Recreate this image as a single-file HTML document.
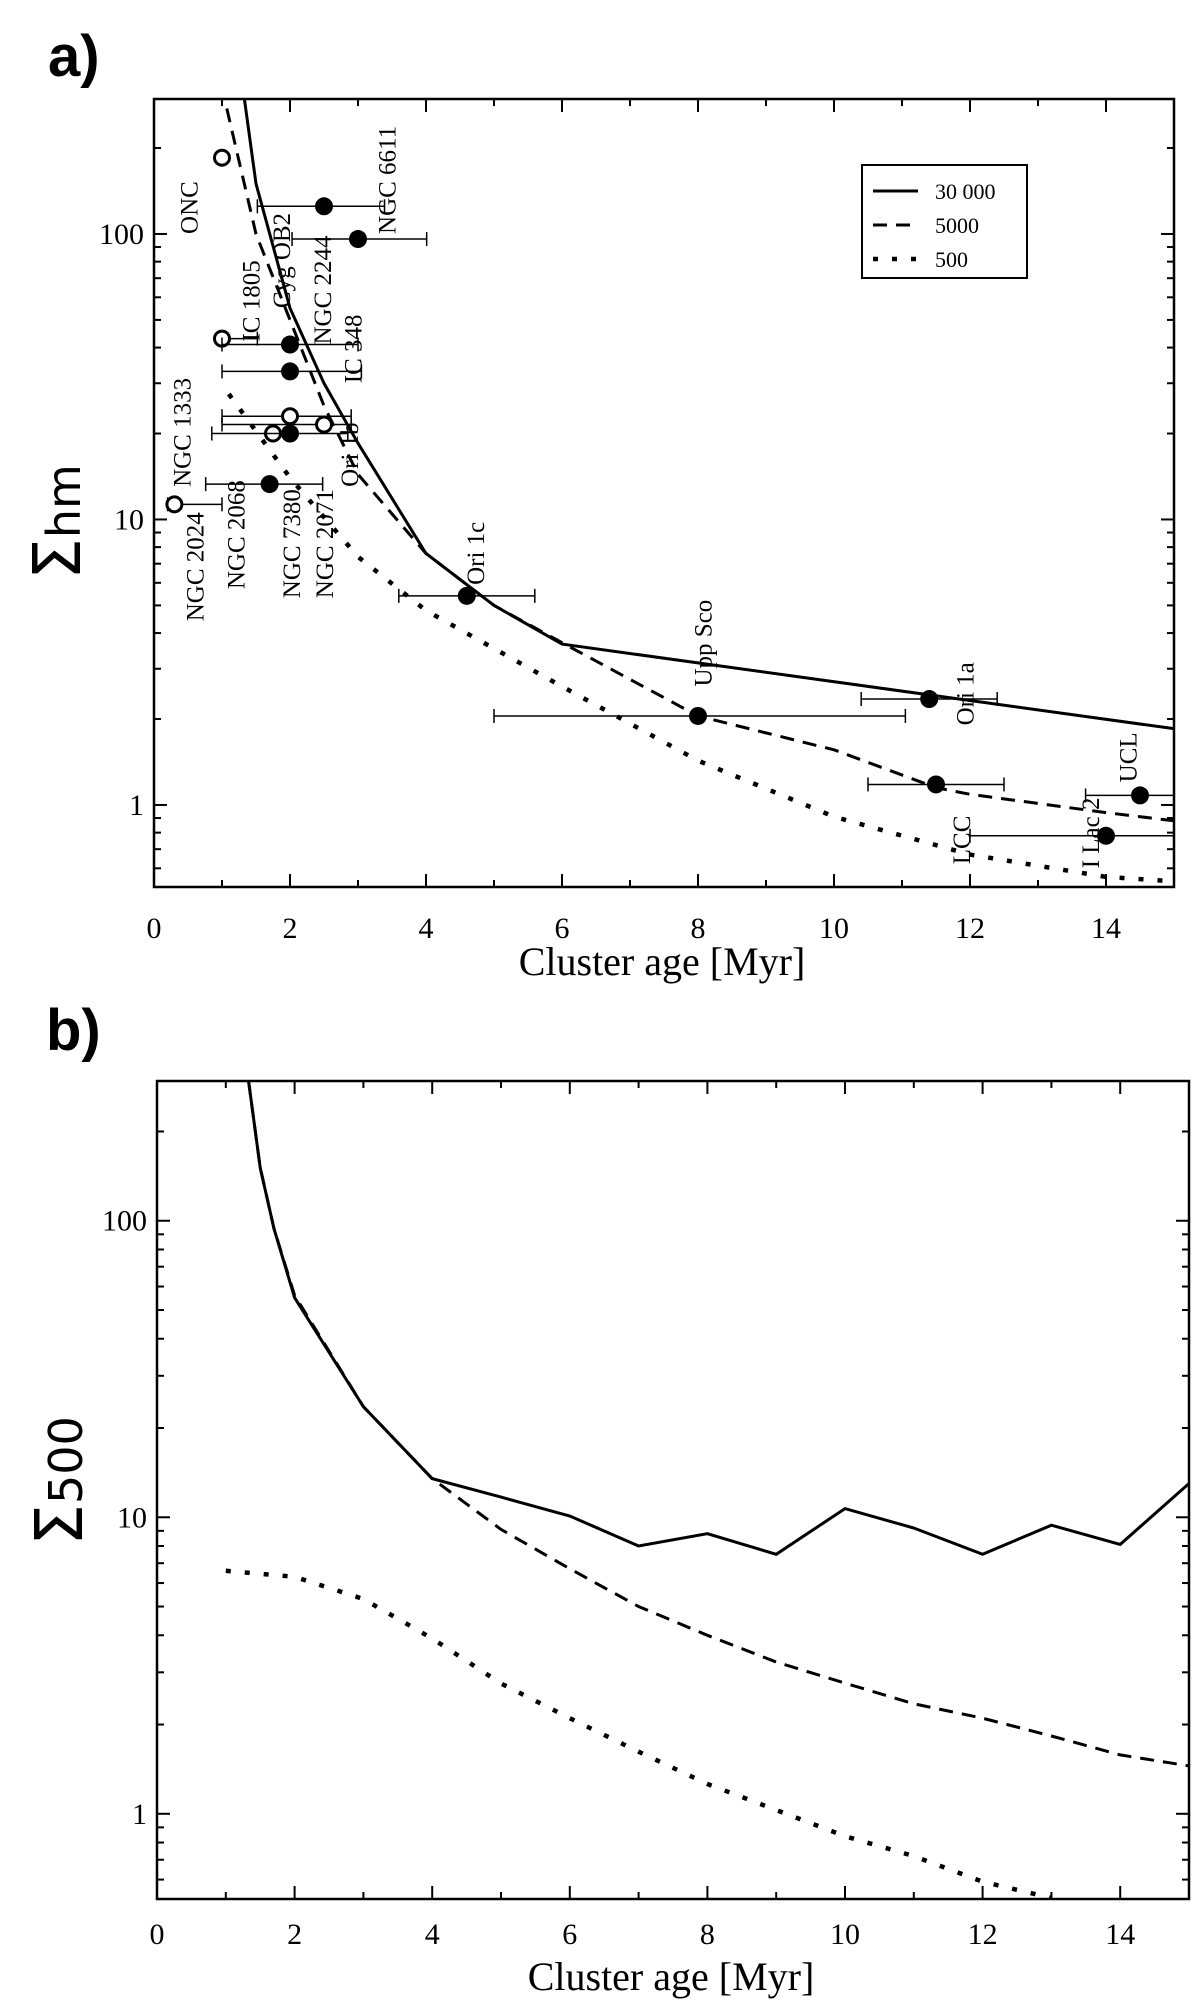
<!DOCTYPE html>
<html><head><meta charset="utf-8"><style>
html,body{margin:0;padding:0;background:#fff;}
svg{display:block;}
.tick{font-family:"Liberation Serif",serif;font-size:30px;fill:#000;}
.title{font-family:"Liberation Serif",serif;font-size:40px;fill:#000;}
.lab{font-family:"Liberation Serif",serif;font-size:25px;fill:#000;}
.leg{font-family:"Liberation Serif",serif;font-size:22px;fill:#000;}
.panel{font-family:"Liberation Sans",sans-serif;font-weight:bold;font-size:58px;fill:#000;}
.ylab{font-family:"DejaVu Sans","Liberation Sans",sans-serif;font-size:66px;fill:#000;}
</style></head><body>
<svg id="fig" width="1200" height="2007" viewBox="0 0 1200 2007" xmlns="http://www.w3.org/2000/svg">
<defs>
<clipPath id="ca"><rect x="154" y="99" width="1020" height="788"/></clipPath>
<clipPath id="cb"><rect x="157" y="1081" width="1032" height="818"/></clipPath>
</defs>
<text class="panel" x="48" y="76">a)</text>
<text class="panel" x="46" y="1050">b)</text>
<g id="pa"></g>
<g id="pb"></g>
</svg>
<script>
// ---- Panel a data ----
const aSolidX = [1.33, 1.5, 2, 2.5, 3, 4, 5, 6, 15];
const aSolidY = [297, 150, 55, 30, 18.5, 7.6, 5.0, 3.66, 1.85];
const aDashX = [1.07, 1.5, 2, 2.5, 3, 4, 5, 6, 8, 10, 11.5, 12, 14, 15];
const aDashY = [275, 100, 50, 25, 14.4, 7.6, 5.0, 3.7, 2.05, 1.56, 1.15, 1.09, 0.94, 0.88];
const aDotX = [1.1, 2, 3, 4, 6, 8, 10, 12, 14, 15];
const aDotY = [27.5, 14, 7.4, 4.8, 2.6, 1.43, 0.91, 0.67, 0.56, 0.54];
const openX = [1, 1, 1.75, 2, 2.5, 0.3];
const openY = [185, 43, 20, 23, 21.5, 11.3];
const openLo = [1, 1.0, 1.75, 1.0, 1.0, 0.2];
const openHi = [1, 1.52, 1.75, 2.9, 2.9, 1.0];
const fillX = [2.5, 3, 2, 2, 2, 1.7, 4.6, 8, 11.4, 11.5, 14.5, 14];
const fillY = [125, 96, 41, 33, 20, 13.3, 5.4, 2.05, 2.35, 1.18, 1.08, 0.78];
const fillLo = [1.52, 2.03, 1.0, 1.0, 0.85, 0.76, 3.6, 5.0, 10.4, 10.5, 13.7, 12.0];
const fillHi = [3.39, 4.01, 3.0, 3.05, 2.85, 2.48, 5.6, 11.05, 12.4, 12.5, 15, 15];
const labelText = ["ONC","NGC 6611","Cyg OB2","IC 1805","NGC 2244","IC 348","NGC 1333","Ori 1b","NGC 2068","NGC 7380","NGC 2071","NGC 2024","Ori 1c","Upp Sco","Ori 1a","UCL","LCC","I Lac 2"];
const labelAge = [0.64, 3.55, 2.0, 1.55, 2.6, 3.05, 0.54, 3.0, 1.33, 2.15, 2.63, 0.73, 4.85, 8.2, 12.05, 14.45, 12.0, 13.9];
const labelVal = [100, 100, 55, 42, 41, 30, 13, 13, 5.7, 5.3, 5.3, 4.4, 5.9, 2.6, 1.9, 1.2, 0.62, 0.6];
// ---- Panel b data ----
const bSolidX = [1.33, 1.5, 1.7, 2, 3, 4, 5, 6, 7, 8, 9, 10, 11, 12, 13, 14, 15];
const bSolidY = [297, 151, 94, 55, 23.6, 13.5, 11.7, 10.1, 8.0, 8.8, 7.5, 10.7, 9.2, 7.5, 9.4, 8.1, 13];
const bDashX = [1.33, 1.5, 1.7, 2, 3, 4, 5, 6, 7, 8, 9, 10, 11, 12, 13, 14, 15];
const bDashY = [297, 151, 94, 56, 23.6, 13.5, 9.1, 6.7, 5.0, 4.0, 3.25, 2.76, 2.35, 2.1, 1.83, 1.58, 1.45];
const bDotX = [1, 2, 3, 4, 5, 6, 7, 8, 9, 10, 11, 12, 13];
const bDotY = [6.6, 6.3, 5.3, 3.9, 2.75, 2.1, 1.62, 1.26, 1.03, 0.84, 0.72, 0.59, 0.52];
const xTicks = [0, 2, 4, 6, 8, 10, 12, 14];
const yTicks = [1, 10, 100];
const yTickLabels = ["1", "10", "100"];

const NS = "http://www.w3.org/2000/svg";
const DOT = "5,14", DASH = "14,9";
function mk(tag, attrs, parent) {
  const e = document.createElementNS(NS, tag);
  for (const k in attrs) e.setAttribute(k, attrs[k]);
  parent.appendChild(e);
  return e;
}
function makeAxes(L, R, T, B, ymin, ymax) {
  const sx = v => L + (v / 15) * (R - L);
  const sy = v => B - (Math.log10(v) - Math.log10(ymin)) / (Math.log10(ymax) - Math.log10(ymin)) * (B - T);
  return {sx, sy};
}
function frame(g, L, R, T, B, ax, xtY, titleY) {
  const f = mk("rect", {x:L, y:T, width:R-L, height:B-T, fill:"none", stroke:"#000", "stroke-width":2.5}, g);
  
  
  for (let i = 0; i <= 15; i++) {
    const x = ax.sx(i), len = (i % 2 === 0) ? 13 : 7;
    mk("line", {x1:x, x2:x, y1:B, y2:B-len, stroke:"#000", "stroke-width":2}, g);
    mk("line", {x1:x, x2:x, y1:T, y2:T+len, stroke:"#000", "stroke-width":2}, g);
  }
  xTicks.forEach(v => {
    const t = mk("text", {x:ax.sx(v), y:xtY, "text-anchor":"middle", class:"tick"}, g);
    t.textContent = v;
    
    
  });
  for (let d = 0.1; d < 1000; d *= 10) {
    for (let m = 1; m < 10; m++) {
      const v = d * m;
      const y = ax.sy(v);
      if (y < T - 0.5 || y > B + 0.5) continue;
      const len = m === 1 ? 13 : 7;
      mk("line", {x1:L, x2:L+len, y1:y, y2:y, stroke:"#000", "stroke-width":2}, g);
      mk("line", {x1:R, x2:R-len, y1:y, y2:y, stroke:"#000", "stroke-width":2}, g);
    }
  }
  yTicks.forEach((v, i) => {
    const t = mk("text", {x:L-10, y:ax.sy(v)+10, "text-anchor":"end", class:"tick"}, g);
    t.textContent = yTickLabels[i];
    
    
  });
  const tt = mk("text", {x:(L+R)/2-2, y:titleY, "text-anchor":"middle", class:"title"}, g);
  tt.textContent = "Cluster age [Myr]";
  
  
}
function line(g, ax, xs, ys, dash, clip, name) {
  const d = xs.map((x, i) => (i ? "L" : "M") + ax.sx(x).toFixed(1) + "," + ax.sy(ys[i]).toFixed(1)).join("");
  const p = mk("path", {d, fill:"none", stroke:"#000", "stroke-width":dash===DOT?4.5:3, "clip-path":"url(#"+clip+")"}, g);
  if (dash) p.setAttribute("stroke-dasharray", dash);
  
  
}

// Panel a
const ga = document.getElementById("pa");
const A = makeAxes(154, 1174, 99, 887, 0.516, 297);
frame(ga, 154, 1174, 99, 887, A, 938, 975);
line(ga, A, aSolidX, aSolidY, null, "ca", "line-30000");
line(ga, A, aDashX, aDashY, DASH, "ca", "line-5000");
line(ga, A, aDotX, aDotY, DOT, "ca", "line-500");
function ebar(g, lo, hi, y) {
  mk("line", {x1:A.sx(lo), x2:A.sx(hi), y1:y, y2:y, stroke:"#000", "stroke-width":1.5, "clip-path":"url(#ca)"}, g);
  [lo, hi].forEach(v => mk("line", {x1:A.sx(v), x2:A.sx(v), y1:y-7, y2:y+7, stroke:"#000", "stroke-width":1.5, "clip-path":"url(#ca)"}, g));
}
openX.forEach((x, i) => {
  const y = A.sy(openY[i]);
  if (openHi[i] > openLo[i]) ebar(ga, openLo[i], openHi[i], y);
  const c = mk("circle", {cx:A.sx(x), cy:y, r:7.5, fill:"#fff", stroke:"#000", "stroke-width":3}, ga);
  
  
});
fillX.forEach((x, i) => {
  const y = A.sy(fillY[i]);
  ebar(ga, fillLo[i], fillHi[i], y);
  const c = mk("circle", {cx:A.sx(x), cy:y, r:9, fill:"#000"}, ga);
  
  
});
labelText.forEach((s, i) => {
  const x = A.sx(labelAge[i]), y = A.sy(labelVal[i]);
  const t = mk("text", {x:x, y:y, class:"lab", transform:"rotate(-90 "+x+" "+y+")"}, ga);
  t.textContent = s;
  
  
});
// legend
const lg = mk("g", {}, ga);


mk("rect", {x:862, y:165, width:165, height:113, fill:"#fff", stroke:"#000", "stroke-width":2}, lg);
const legNames = ["30 000", "5000", "500"];
const legDash = [null, DASH, DOT];
legNames.forEach((s, i) => {
  const y = 191 + i * 34;
  const l = mk("line", {x1:873, x2:918, y1:y, y2:y, stroke:"#000", "stroke-width":legDash[i]===DOT?4.5:3}, lg);
  if (legDash[i]) l.setAttribute("stroke-dasharray", legDash[i]);
  const t = mk("text", {x:935, y:y+8, class:"leg"}, lg);
  t.textContent = s;
  
  
});
const ya = mk("text", {x:0, y:0, class:"ylab", transform:"translate(80 522) rotate(-90)", "text-anchor":"middle"}, ga);
ya.innerHTML = "Σ<tspan font-size='46' dy='0'>hm</tspan>";



// Panel b
const gb = document.getElementById("pb");
const B = makeAxes(157, 1189, 1081, 1899, 0.516, 296);
frame(gb, 157, 1189, 1081, 1899, B, 1944, 1990);
line(gb, B, bSolidX, bSolidY, null, "cb", "line-30000");
line(gb, B, bDashX, bDashY, DASH, "cb", "line-5000");
line(gb, B, bDotX, bDotY, DOT, "cb", "line-500");
const yb = mk("text", {x:0, y:0, class:"ylab", transform:"translate(82 1481) rotate(-90)", "text-anchor":"middle"}, gb);
yb.innerHTML = "Σ<tspan font-size='46' dy='0'>500</tspan>";


</script>
</body></html>
